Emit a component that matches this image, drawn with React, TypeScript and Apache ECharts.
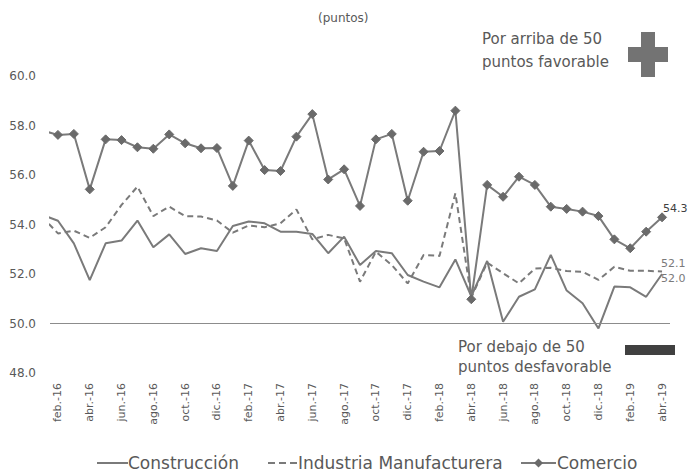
import React, { useEffect, useRef } from "react";
import * as echarts from "echarts";

// Months from ene.-16 to abr.-19 (the first month is only partly visible, clipped at the plot edge)
const months = [
  "ene.-16", "feb.-16", "mar.-16", "abr.-16", "may.-16", "jun.-16", "jul.-16", "ago.-16", "sep.-16", "oct.-16", "nov.-16", "dic.-16",
  "ene.-17", "feb.-17", "mar.-17", "abr.-17", "may.-17", "jun.-17", "jul.-17", "ago.-17", "sep.-17", "oct.-17", "nov.-17", "dic.-17",
  "ene.-18", "feb.-18", "mar.-18", "abr.-18", "may.-18", "jun.-18", "jul.-18", "ago.-18", "sep.-18", "oct.-18", "nov.-18", "dic.-18",
  "ene.-19", "feb.-19", "mar.-19", "abr.-19",
];

const construccion = [
  54.4, 54.15, 53.24, 51.75, 53.24, 53.35, 54.16, 53.08, 53.6, 52.81, 53.04, 52.93,
  53.94, 54.12, 54.05, 53.71, 53.71, 53.62, 52.84, 53.51, 52.36, 52.93, 52.84, 51.96,
  51.69, 51.46, 52.59, 51.1, 52.53, 50.07, 51.08, 51.38, 52.77, 51.33, 50.82, 49.8,
  51.49, 51.46, 51.08, 52.0,
];

const industria = [
  54.32, 53.64, 53.75, 53.46, 53.89, 54.79, 55.53, 54.34, 54.72, 54.34, 54.32, 54.16,
  53.67, 53.96, 53.89, 54.05, 54.61, 53.4, 53.58, 53.44, 51.69, 52.9, 52.36, 51.62,
  52.77, 52.73, 55.26, 51.05, 52.46, 52.03, 51.62, 52.22, 52.25, 52.12, 52.09, 51.76,
  52.29, 52.13, 52.13, 52.1,
];

const comercio = [
  57.8, 57.62, 57.66, 55.42, 57.44, 57.41, 57.12, 57.06, 57.64, 57.28, 57.08, 57.09,
  55.56, 57.39, 56.2, 56.16, 57.55, 58.46, 55.82, 56.23, 54.75, 57.44, 57.66, 54.96,
  56.94, 56.97, 58.6, 50.98, 55.6, 55.12, 55.93, 55.6, 54.72, 54.63, 54.52, 54.34,
  53.4, 53.04, 53.71, 54.29,
];

const seriesNames = ["Construcción", "Industria Manufacturera", "Comercio"];
const yTicks = { min: 48, max: 60, interval: 2 };
const titleText = "(puntos)";
const noteAbove = ["Por arriba de 50", "puntos favorable"];
const noteBelow = ["Por debajo de 50", "puntos desfavorable"];
const threshold = 50;

const FONT = "DejaVu Sans";
const TEXT = "#595959";
const LINE = "#7a7a7a";
const MARK = "#6a6a6a";

function buildData(values: number[], labelOffset: number[], labelColor: string) {
  return values.map((v, i) => {
    if (i === 0) return { value: [i, v], symbol: "none" };
    if (i === values.length - 1) {
      return {
        value: [i, v],
        label: {
          show: true,
          position: "right",
          distance: 0,
          offset: labelOffset,
          formatter: (p: any) => Number(p.value[1]).toFixed(1),
          color: labelColor,
          fontFamily: FONT,
          fontSize: 11,
        },
      };
    }
    return { value: [i, v] };
  });
}

export default function App() {
  const ref = useRef<HTMLDivElement>(null);

  useEffect(() => {
    if (!ref.current) return;
    const chart = echarts.init(ref.current, null, { renderer: "svg" });
    const categories = months.slice(1);
    const legY = 463;
    const legendFont = `17px "${FONT}"`;

    chart.setOption({
      animation: false,
      backgroundColor: "#ffffff",
      textStyle: { fontFamily: FONT, color: TEXT },
      grid: { left: 50, right: 20, top: 76, bottom: 99, containLabel: false },
      xAxis: [
        {
          type: "category",
          data: categories,
          boundaryGap: true,
          axisLine: { show: false },
          axisTick: { show: false },
          splitLine: { show: false },
          axisLabel: {
            interval: 1,
            rotate: 90,
            margin: 10,
            fontFamily: FONT,
            fontSize: 11,
            color: TEXT,
          },
        },
        {
          type: "value",
          show: false,
          min: 0.5,
          max: months.length - 0.5,
          splitLine: { show: false },
        },
      ],
      yAxis: {
        type: "value",
        min: yTicks.min,
        max: yTicks.max,
        interval: yTicks.interval,
        axisLine: { show: false },
        axisTick: { show: false },
        splitLine: { show: false },
        axisLabel: {
          margin: 14,
          fontFamily: FONT,
          fontSize: 12,
          color: TEXT,
          formatter: (v: number) => v.toFixed(1),
        },
      },
      series: [
        {
          name: seriesNames[0],
          type: "line",
          xAxisIndex: 1,
          clip: true,
          symbol: "circle",
          symbolSize: 2,
          showSymbol: true,
          lineStyle: { color: LINE, width: 2, type: "solid" },
          itemStyle: { color: "rgba(0,0,0,0)", borderWidth: 0 },
          data: buildData(construccion, [-2, 4], "#7a7a7a"),
          markLine: {
            silent: true,
            symbol: "none",
            label: { show: false },
            lineStyle: { color: "#8c8c8c", width: 1, type: "solid" },
            data: [{ yAxis: threshold }],
          },
          z: 2,
        },
        {
          name: seriesNames[1],
          type: "line",
          xAxisIndex: 1,
          clip: true,
          symbol: "circle",
          symbolSize: 2,
          showSymbol: true,
          lineStyle: { color: LINE, width: 2, type: [6, 4] },
          itemStyle: { color: "rgba(0,0,0,0)", borderWidth: 0 },
          data: buildData(industria, [-2, -8], "#7a7a7a"),
          z: 2,
        },
        {
          name: seriesNames[2],
          type: "line",
          xAxisIndex: 1,
          clip: true,
          symbol: "diamond",
          symbolSize: 9,
          showSymbol: true,
          lineStyle: { color: LINE, width: 2 },
          itemStyle: { color: MARK, borderColor: MARK },
          data: buildData(comercio, [-4, -9], "#404040"),
          z: 3,
        },
      ],
      graphic: [
        {
          type: "text",
          left: 318,
          top: 12,
          style: { text: titleText, font: `12px "${FONT}"`, fill: TEXT },
        },
        {
          type: "text",
          left: 482,
          top: 27,
          style: { text: noteAbove.join("\n"), font: `15px "${FONT}"`, fill: TEXT, lineHeight: 23 },
        },
        { type: "rect", shape: { x: 641, y: 32, width: 14, height: 45 }, style: { fill: "#737373" } },
        { type: "rect", shape: { x: 628, y: 47, width: 40, height: 15 }, style: { fill: "#737373" } },
        {
          type: "text",
          left: 458,
          top: 337,
          style: { text: noteBelow.join("\n"), font: `15px "${FONT}"`, fill: TEXT, lineHeight: 20 },
        },
        { type: "rect", shape: { x: 625, y: 345, width: 50, height: 10 }, style: { fill: "#404040" } },
        // legend
        { type: "line", shape: { x1: 97, y1: legY, x2: 128, y2: legY }, style: { stroke: LINE, lineWidth: 2 } },
        {
          type: "text",
          x: 128,
          y: legY,
          style: { text: seriesNames[0], font: legendFont, fill: TEXT, verticalAlign: "middle", align: "left" },
        },
        {
          type: "line",
          shape: { x1: 268, y1: legY, x2: 297, y2: legY },
          style: { stroke: LINE, lineWidth: 2, lineDash: [7, 4] },
        },
        {
          type: "text",
          x: 298,
          y: legY,
          style: { text: seriesNames[1], font: legendFont, fill: TEXT, verticalAlign: "middle", align: "left" },
        },
        { type: "line", shape: { x1: 521, y1: legY, x2: 556, y2: legY }, style: { stroke: LINE, lineWidth: 2 } },
        {
          type: "polygon",
          shape: { points: [[538.5, legY - 4.5], [543, legY], [538.5, legY + 4.5], [534, legY]] },
          style: { fill: MARK },
        },
        {
          type: "text",
          x: 557,
          y: legY,
          style: { text: seriesNames[2], font: legendFont, fill: TEXT, verticalAlign: "middle", align: "left" },
        },
      ],
    });

    return () => chart.dispose();
  }, []);

  return (
    <div
      ref={ref}
      style={{ position: "absolute", left: 0, top: 0, width: 690, height: 472 }}
    />
  );
}
